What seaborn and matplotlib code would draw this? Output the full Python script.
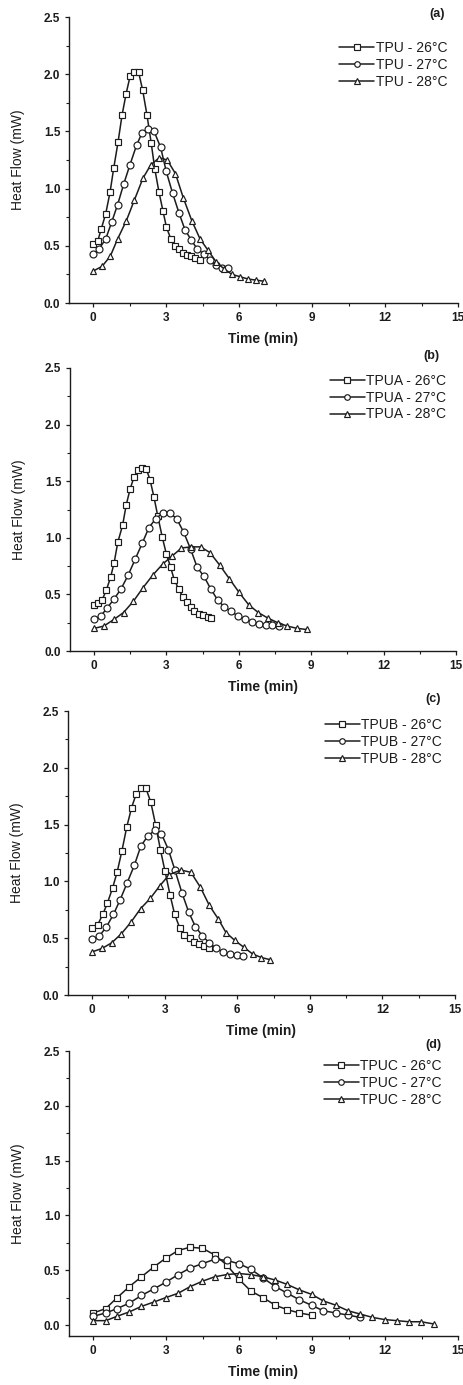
import matplotlib
matplotlib.use("Agg")
import matplotlib.pyplot as plt
import seaborn as sns
from matplotlib.ticker import MultipleLocator, FormatStrFormatter

sns.set_theme(style="ticks")
plt.rcParams["font.family"] = ["Liberation Sans", "DejaVu Sans"]

# ---------------- data ----------------
# (a) TPU
tpu26_t = [0, 0.18, 0.33, 0.51, 0.69, 0.84, 1.02, 1.18, 1.35, 1.51, 1.66, 1.86, 2.03, 2.21,
           2.38, 2.53, 2.70, 2.87, 3.01, 3.19, 3.35, 3.51, 3.68, 3.85, 4.02, 4.20, 4.38]
tpu26_hf = [0.52, 0.54, 0.65, 0.78, 0.97, 1.18, 1.41, 1.64, 1.83, 1.98, 2.02, 2.02, 1.86, 1.64,
            1.40, 1.17, 0.97, 0.80, 0.66, 0.56, 0.50, 0.47, 0.44, 0.42, 0.41, 0.39, 0.38]
tpu27_t = [0, 0.23, 0.51, 0.76, 1.00, 1.25, 1.51, 1.78, 2.01, 2.26, 2.50, 2.77, 3.00, 3.26,
           3.52, 3.77, 4.03, 4.28, 4.54, 4.79, 5.04, 5.28, 5.52]
tpu27_hf = [0.43, 0.47, 0.56, 0.71, 0.86, 1.04, 1.21, 1.38, 1.49, 1.52, 1.50, 1.36, 1.15, 0.96,
            0.79, 0.64, 0.55, 0.47, 0.43, 0.38, 0.33, 0.31, 0.31]
tpu28_t = [0, 0.36, 0.70, 1.00, 1.36, 1.69, 2.04, 2.37, 2.72, 3.04, 3.38, 3.70, 4.05, 4.39,
           4.72, 5.05, 5.37, 5.70, 6.03, 6.36, 6.69, 7.03]
tpu28_hf = [0.28, 0.32, 0.41, 0.56, 0.72, 0.90, 1.09, 1.21, 1.27, 1.25, 1.13, 0.92, 0.72, 0.56,
            0.46, 0.36, 0.30, 0.25, 0.23, 0.21, 0.20, 0.19]

# (b) TPUA
tpua26_t = [0, 0.17, 0.33, 0.51, 0.68, 0.83, 0.98, 1.18, 1.33, 1.49, 1.66, 1.83, 1.99, 2.16, 2.32,
            2.48, 2.64, 2.82, 2.99, 3.17, 3.32, 3.50, 3.67, 3.83, 4.00, 4.16, 4.34, 4.52, 4.70, 4.86]
tpua26_hf = [0.41, 0.42, 0.45, 0.54, 0.65, 0.78, 0.96, 1.11, 1.29, 1.43, 1.54, 1.60, 1.62, 1.61, 1.51,
             1.36, 1.19, 1.01, 0.86, 0.74, 0.63, 0.55, 0.48, 0.43, 0.39, 0.35, 0.33, 0.32, 0.30, 0.29]
tpua27_t = [0, 0.28, 0.54, 0.83, 1.12, 1.41, 1.70, 1.99, 2.27, 2.56, 2.85, 3.13, 3.42, 3.71, 4.00,
            4.27, 4.55, 4.83, 5.12, 5.39, 5.67, 5.96, 6.25, 6.54, 6.83, 7.11, 7.39, 7.66]
tpua27_hf = [0.28, 0.31, 0.38, 0.46, 0.55, 0.67, 0.81, 0.95, 1.09, 1.17, 1.22, 1.22, 1.17, 1.05, 0.90,
             0.74, 0.66, 0.55, 0.45, 0.39, 0.35, 0.31, 0.28, 0.26, 0.24, 0.23, 0.23, 0.22]
tpua28_t = [0, 0.40, 0.83, 1.22, 1.63, 2.03, 2.43, 2.85, 3.24, 3.62, 4.02, 4.41, 4.80, 5.20, 5.60,
            6.00, 6.40, 6.80, 7.21, 7.61, 8.01, 8.41, 8.81]
tpua28_hf = [0.20, 0.22, 0.28, 0.34, 0.44, 0.56, 0.67, 0.77, 0.84, 0.91, 0.92, 0.92, 0.87, 0.76, 0.64,
             0.52, 0.41, 0.34, 0.29, 0.25, 0.22, 0.20, 0.19]

# (c) TPUB
tpub26_t = [0, 0.23, 0.44, 0.63, 0.84, 1.03, 1.23, 1.43, 1.63, 1.82, 2.03, 2.22, 2.42, 2.62, 2.82,
            3.01, 3.22, 3.41, 3.62, 3.81, 4.03, 4.22, 4.41, 4.62, 4.81]
tpub26_hf = [0.59, 0.62, 0.71, 0.81, 0.94, 1.08, 1.27, 1.48, 1.65, 1.77, 1.82, 1.82, 1.70, 1.50, 1.28,
             1.09, 0.88, 0.71, 0.59, 0.53, 0.50, 0.47, 0.45, 0.43, 0.41]
tpub27_t = [0, 0.30, 0.59, 0.88, 1.16, 1.45, 1.74, 2.01, 2.30, 2.59, 2.86, 3.15, 3.42, 3.71, 3.99,
            4.27, 4.56, 4.84, 5.12, 5.41, 5.68, 5.97, 6.25]
tpub27_hf = [0.49, 0.52, 0.60, 0.71, 0.84, 0.99, 1.14, 1.31, 1.40, 1.45, 1.42, 1.28, 1.10, 0.90, 0.73,
             0.60, 0.52, 0.46, 0.41, 0.38, 0.36, 0.35, 0.34]
tpub28_t = [0, 0.41, 0.81, 1.21, 1.60, 2.00, 2.40, 2.79, 3.19, 3.67, 4.08, 4.47, 4.84, 5.21, 5.53,
            5.90, 6.27, 6.64, 7.00, 7.37]
tpub28_hf = [0.38, 0.41, 0.46, 0.54, 0.64, 0.76, 0.85, 0.96, 1.06, 1.10, 1.08, 0.95, 0.79, 0.67, 0.55,
             0.48, 0.42, 0.36, 0.33, 0.31]

# (d) TPUC
tpuc26_t = [0, 0.51, 0.98, 1.48, 1.98, 2.49, 2.98, 3.49, 3.98, 4.49, 4.99, 5.48, 5.98, 6.48, 6.98,
            7.49, 7.98, 8.48, 8.98]
tpuc26_hf = [0.11, 0.15, 0.25, 0.35, 0.44, 0.53, 0.61, 0.68, 0.71, 0.70, 0.64, 0.55, 0.42, 0.31, 0.25,
             0.18, 0.14, 0.11, 0.09]
tpuc27_t = [0, 0.51, 0.98, 1.48, 1.98, 2.49, 2.98, 3.49, 3.98, 4.49, 4.99, 5.48, 5.98, 6.48, 6.98,
            7.49, 7.98, 8.48, 8.98, 9.46, 9.99, 10.48, 10.98]
tpuc27_hf = [0.08, 0.11, 0.15, 0.20, 0.27, 0.33, 0.39, 0.46, 0.52, 0.56, 0.60, 0.59, 0.56, 0.51, 0.43,
             0.35, 0.29, 0.23, 0.18, 0.13, 0.11, 0.09, 0.07]
tpuc28_t = [0, 0.51, 0.98, 1.48, 1.98, 2.49, 2.98, 3.49, 3.98, 4.49, 4.99, 5.48, 5.98, 6.48, 6.98,
            7.49, 7.98, 8.48, 8.98, 9.46, 9.99, 10.48, 10.98, 11.48, 11.98, 12.49, 12.98, 13.48, 14.0]
tpuc28_hf = [0.04, 0.04, 0.08, 0.12, 0.17, 0.21, 0.25, 0.29, 0.35, 0.40, 0.44, 0.46, 0.47, 0.46, 0.44,
             0.41, 0.37, 0.32, 0.28, 0.22, 0.18, 0.13, 0.10, 0.07, 0.05, 0.04, 0.03, 0.03, 0.01]

panel_letters = ["(a)", "(b)", "(c)", "(d)"]
sample_names = ["TPU", "TPUA", "TPUB", "TPUC"]
temperatures = ["26°C", "27°C", "28°C"]
x_ticks = [0, 3, 6, 9, 12, 15]
y_ticks = [0.0, 0.5, 1.0, 1.5, 2.0, 2.5]
x_label = "Time (min)"
y_label = "Heat Flow (mW)"

series = [
    [(tpu26_t, tpu26_hf), (tpu27_t, tpu27_hf), (tpu28_t, tpu28_hf)],
    [(tpua26_t, tpua26_hf), (tpua27_t, tpua27_hf), (tpua28_t, tpua28_hf)],
    [(tpub26_t, tpub26_hf), (tpub27_t, tpub27_hf), (tpub28_t, tpub28_hf)],
    [(tpuc26_t, tpuc26_hf), (tpuc27_t, tpuc27_hf), (tpuc28_t, tpuc28_hf)],
]

# ---------------- layout / style ----------------
W, H = 464, 1385
fig = plt.figure(figsize=(W / 100, H / 100), dpi=100)
fig.patch.set_facecolor("white")

# axes boxes in pixels: left, right, top, bottom
boxes = [(69, 458, 17, 303), (70, 456, 368, 651), (68, 455, 711, 995), (69, 458, 1051, 1336)]
ylims = [(0, 2.5), (0, 2.5), (0, 2.5), (-0.1, 2.5)]
legend_anchor = [(0.972, 0.916), (0.974, 0.979), (0.966, 0.975), (0.958, 0.972)]
letter_pos = [(0.946, 1.012), (0.937, 1.042), (0.943, 1.042), (0.936, 1.02)]
markers = ["s", "o", "^"]
ink = "#1c1c1c"

for i in range(4):
    l, r, t, b = boxes[i]
    ax = fig.add_axes([l / W, 1 - b / H, (r - l) / W, (b - t) / H])
    ax.set_facecolor("white")
    for (tt, hf), m, temp in zip(series[i], markers, temperatures):
        sns.lineplot(x=tt, y=hf, ax=ax, estimator=None, sort=False,
                     color=ink, linewidth=1.1, marker=m, markersize=5.0,
                     markerfacecolor="white", markeredgecolor=ink, markeredgewidth=0.85,
                     label=f"{sample_names[i]} - {temp}")
    ax.set_xlim(-1, 15)
    ax.set_ylim(*ylims[i])
    ax.set_xticks(x_ticks)
    ax.set_yticks(y_ticks)
    ax.xaxis.set_minor_locator(MultipleLocator(1.5))
    ax.yaxis.set_minor_locator(MultipleLocator(0.25))
    ax.yaxis.set_major_formatter(FormatStrFormatter("%.1f"))
    ax.tick_params(which="major", direction="out", length=3.2, width=0.9, color=ink,
                   labelsize=8.5, labelcolor=ink)
    ax.tick_params(which="minor", direction="out", length=2.2, width=0.8, color=ink)
    ax.tick_params(axis="x", pad=3.5)
    ax.tick_params(axis="y", pad=3.0)
    for lbl in ax.get_xticklabels() + ax.get_yticklabels():
        lbl.set_fontweight("bold")
    sns.despine(ax=ax)
    for s in ("left", "bottom"):
        ax.spines[s].set_color(ink)
        ax.spines[s].set_linewidth(1.0)
    ax.set_xlabel(x_label, fontsize=10, fontweight="bold", color=ink, va="center")
    ax.xaxis.set_label_coords(0.5, -0.126)
    ax.set_ylabel(y_label, fontsize=10, color=ink, va="center")
    ax.yaxis.set_label_coords(-0.131, 0.5)
    ax.text(letter_pos[i][0], letter_pos[i][1], panel_letters[i], transform=ax.transAxes,
            ha="center", va="center", fontsize=9, fontweight="bold", color=ink)
    leg = ax.legend(loc="upper right", bbox_to_anchor=legend_anchor[i], frameon=False,
                    fontsize=10, handlelength=2.5, handletextpad=0.1, labelspacing=0.2,
                    borderpad=0, borderaxespad=0)
    for h in leg.legend_handles:
        h.set_markersize(4.0)
    for txt in leg.get_texts():
        txt.set_color(ink)

fig.savefig("out.png", dpi=100, facecolor="white")
